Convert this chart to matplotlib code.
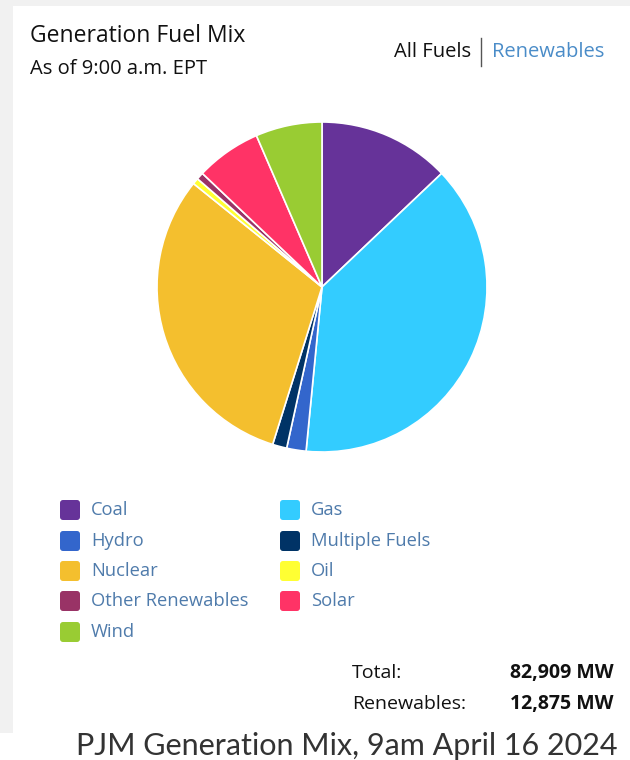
import matplotlib
matplotlib.use("Agg")
import matplotlib.pyplot as plt
from matplotlib.patches import Rectangle, FancyBboxPatch

# ---- data ----
fuels = ["Coal", "Gas", "Hydro", "Multiple Fuels", "Nuclear", "Oil",
         "Other Renewables", "Solar", "Wind"]
mw = [10720, 32074, 1575, 1160, 25700, 500, 580, 5320, 5400]
colors = ["#663399", "#33CCFF", "#3366CC", "#003366", "#F4BF2E", "#FFFF33",
          "#993366", "#FF3366", "#99CC33"]
legend_order = ["Coal", "Gas", "Hydro", "Multiple Fuels", "Nuclear", "Oil",
                "Other Renewables", "Solar", "Wind"]
total_label = "82,909 MW"
renew_label = "12,875 MW"

W, H = 630, 760
fig = plt.figure(figsize=(W / 100, H / 100), dpi=100)
fig.patch.set_facecolor("white")

def fx(x):
    return x / W

def fy(y):
    return 1 - y / H

# card background / shadow
bg = fig.add_axes([0, 0, 1, 1])
bg.set_xlim(0, W)
bg.set_ylim(H, 0)
bg.axis("off")
bg.add_patch(Rectangle((0, 0), W, 6, color="#f1f1f1", lw=0))
bg.add_patch(Rectangle((0, 0), 13, 733, color="#f1f1f1", lw=0))
bg.add_patch(FancyBboxPatch((14, 8), W, 722, boxstyle="round,pad=0,rounding_size=6",
                            fc="white", ec="none"))

# pie
cx, cy, r = 322, 287, 165
ax = fig.add_axes([fx(cx - r), fy(cy + r), 2 * r / W, 2 * r / H])
ax.pie(mw, colors=colors, startangle=90, counterclock=False,
       wedgeprops=dict(edgecolor="white", linewidth=1.2))
ax.set_xlim(-1, 1)
ax.set_ylim(-1, 1)
ax.set_aspect("auto")
ax.axis("off")

font = "Open Sans"
# header
fig.text(fx(30), fy(36), "Generation Fuel Mix", fontsize=16.5, family=font,
         color="#111111", va="center", ha="left")
fig.text(fx(30), fy(69), "As of 9:00 a.m. EPT", fontsize=14.5, family=font,
         color="#111111", va="center", ha="left")
fig.text(fx(471), fy(52), "All Fuels", fontsize=14.5, family=font,
         color="#111111", va="center", ha="right")
bg.plot([481, 481], [38, 66], color="#555555", lw=1)
fig.text(fx(492), fy(52), "Renewables", fontsize=14.5, family=font,
         color="#4a8cc8", va="center", ha="left")

# legend
col_x = [60, 280]
row_y = [510, 541, 571, 601, 632]
cmap = dict(zip(fuels, colors))
for i, name in enumerate(legend_order):
    cx_ = col_x[i % 2]
    ry = row_y[i // 2]
    bg.add_patch(FancyBboxPatch((cx_, ry - 10), 20, 20,
                                boxstyle="round,pad=0,rounding_size=3",
                                fc=cmap[name], ec="none"))
    fig.text(fx(cx_ + 31), fy(ry), name, fontsize=13.2, family=font,
             color="#4f7bab", va="center", ha="left")

# totals
fig.text(fx(352), fy(673), "Total:", fontsize=14, family=font,
         color="#111111", va="center", ha="left")
fig.text(fx(614), fy(673), total_label, fontsize=14, family=font,
         color="#111111", va="center", ha="right", weight="bold")
fig.text(fx(352), fy(704), "Renewables:", fontsize=14, family=font,
         color="#111111", va="center", ha="left")
fig.text(fx(614), fy(704), renew_label, fontsize=14, family=font,
         color="#111111", va="center", ha="right", weight="bold")

# caption
fig.text(fx(617), fy(746), "PJM Generation Mix, 9am April 16 2024", fontsize=22,
         family="Lato", color="#333333", va="center", ha="right")

fig.savefig("out.png", dpi=100, facecolor="white")
